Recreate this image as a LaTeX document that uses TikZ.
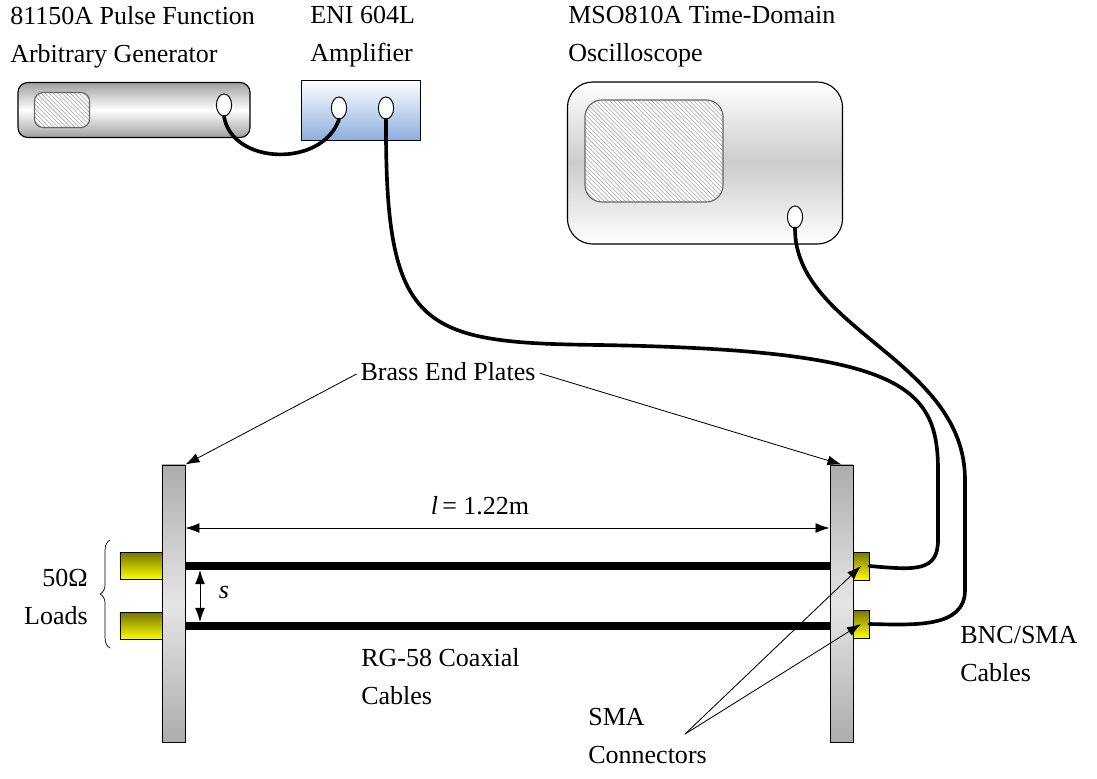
\documentclass[tikz,border=0pt]{standalone}
\usepackage{fontspec}
\setmainfont{Liberation Serif}
\usetikzlibrary{positioning, arrows.meta, decorations.pathreplacing, shapes.geometric, patterns}

\definecolor{ampblue}{RGB}{141, 174, 222}
\definecolor{loadolive}{RGB}{118, 118, 0}
\definecolor{loadyellow}{RGB}{255, 255, 0}

\begin{document}
\begin{tikzpicture}[x=0.025cm, y=-0.025cm,
    txt/.style={font=\fontsize{18.5}{27}\selectfont, align=left, inner sep=0pt},
    instr/.style={draw, line width=0.8pt, rounded corners=7pt, inner sep=0pt, outer sep=0pt},
    screen/.style={draw=gray!80!black, line width=0.8pt, rounded corners=6pt, preaction={fill=white}, pattern=north west lines, pattern color=gray!70, inner sep=0pt},
    port/.style={draw, ellipse, fill=white, line width=0.7pt, minimum width=0.38cm, minimum height=0.55cm, inner sep=0pt},
    plate/.style={draw, line width=0.6pt, top color=gray!65, bottom color=gray!65, middle color=gray!20, minimum width=0.575cm, minimum height=6.925cm, inner sep=0pt},
    load/.style={draw, line width=0.6pt, top color=loadolive, bottom color=loadyellow, inner sep=0pt},
    cable/.style={line width=2.6pt, line cap=round},
    coax/.style={line width=5pt},
    pointer/.style={-{Latex[length=10pt, width=7pt]}, line width=0.6pt},
    dim/.style={{Latex[length=10pt, width=7pt]}-{Latex[length=10pt, width=7pt]}, line width=0.6pt}
  ]
  \useasboundingbox (0,0) rectangle (1097,778);

  % instruments
  \node[instr, top color=gray!75, bottom color=gray!75, middle color=white,
        minimum width=5.8cm, minimum height=1.375cm] (gen) at (134,110) {};
  \node[screen, minimum width=1.375cm, minimum height=0.875cm] (genscreen) at (62,110) {};
  \node[port] (genout) at (224,105) {};

  \node[draw, line width=0.7pt, top color=white, bottom color=ampblue, inner sep=0pt,
        minimum width=2.95cm, minimum height=1.5cm] (amp) at (361,110) {};
  \node[port] (ampin) at (339,108) {};
  \node[port] (ampout) at (386,108) {};

  \node[instr, rounded corners=18pt, top color=white, bottom color=white, middle color=gray!40,
        minimum width=6.875cm, minimum height=4.05cm] (scope) at (705,163) {};
  \node[screen, rounded corners=12pt, minimum width=3.45cm, minimum height=2.55cm] (scopescreen) at (654,151) {};
  \node[port] (scopein) at (795,217) {};

  \node[txt, anchor=north west] (genlabel) at (10,6) {81150A Pulse Function\\Arbitrary Generator};
  \node[txt, anchor=north west] (amplabel) at (310,6) {ENI 604L\\Amplifier};
  \node[txt, anchor=north west] (scopelabel) at (568,6) {MSO810A Time-Domain\\Oscilloscope};

  % line under test
  \node[load, minimum width=1.05cm, minimum height=0.675cm] (loadA) at (141,566) {};
  \node[load, minimum width=1.05cm, minimum height=0.675cm] (loadB) at (141,626) {};
  \node[plate] (plateL) at (173.5,603.5) {};
  \node[plate] (plateR) at (841.5,603.5) {};
  \node[load, minimum width=0.4cm, minimum height=0.7cm] (smaA) at (861,566) {};
  \node[load, minimum width=0.4cm, minimum height=0.7cm] (smaB) at (861,624) {};
  \draw[coax] (plateL.east |- loadA) -- (plateR.west |- loadA);
  \draw[coax] (plateL.east |- loadB) -- (plateR.west |- loadB);

  % cables
  \draw[cable] (genout.south) .. controls (232,165) and (322,168) .. (ampin.south);
  \draw[cable] (ampout.south) .. controls (385,330) and (420,343) .. (600,345)
    .. controls (900,350) and (938,385) .. (938,470) -- (938,540)
    .. controls (938,572) and (915,570) .. (smaA.east);
  \draw[cable] (scopein.south) .. controls (795,330) and (965,360) .. (965,480) -- (965,590)
    .. controls (965,628) and (915,625) .. (smaB.east);

  % labels and arrows
  \node[txt] (platelabel) at (448,372) {Brass End Plates};
  \draw[pointer, shorten <=3pt] (platelabel.west) -- (plateL.north east);
  \draw[pointer, shorten <=3pt] (platelabel.east) -- (plateR.north);

  \node[txt] (lenlabel) at (480,506) {\textit{l}\,= 1.22m};
  \draw[dim] (plateL.east |- 0,528) -- (plateR.west |- 0,528);

  \node[txt] (slabel) at (224,592) {\textit{s}};
  \draw[dim] (200,570) -- (200,622);

  \draw[decorate, decoration={brace, amplitude=7pt}, line width=0.5pt] (110,648) -- (110,540);
  \node[txt, align=right, anchor=east] (loadlabel) at (88,597) {50Ω\\Loads};

  \node[txt, anchor=north west] (coaxlabel) at (361,648) {RG-58 Coaxial\\Cables};
  \node[txt, anchor=north west] (bnclabel) at (960,626) {BNC/SMA\\Cables};
  \node[txt, anchor=north west] (smalabel) at (588,708) {SMA\\Connectors};
  \coordinate (smatail) at ([xshift=-0.55cm, yshift=-0.65cm]smalabel.north east);
  \draw[pointer] (smatail) -- (smaA.center);
  \draw[pointer] (smatail) -- (smaB.center);
\end{tikzpicture}
\end{document}
